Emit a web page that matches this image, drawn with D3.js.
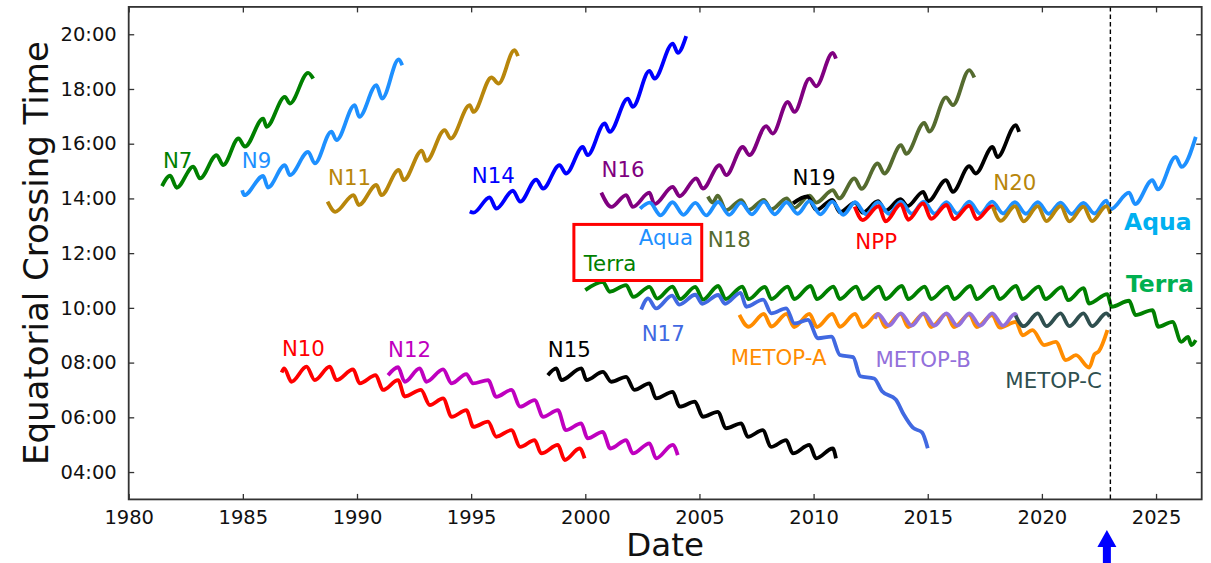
<!DOCTYPE html>
<html><head><meta charset="utf-8">
<script src="https://cdn.jsdelivr.net/npm/d3@7"></script>
<style>
html,body{margin:0;padding:0;background:#fff;}
svg{display:block;font-family:"DejaVu Sans",sans-serif;}
</style></head>
<body>
<svg id="chart" width="1211" height="563"></svg>
<script>
// ---- data: [decimal year, local crossing hour] ----
const N7 = [[1981.46,14.45],[1981.82,14.83],[1982.10,14.39],[1982.83,15.16],[1983.12,14.73],[1983.85,15.58],[1984.14,15.22],[1984.81,16.19],[1985.09,15.89],[1985.89,16.92],[1986.04,16.62],[1986.84,17.71],[1987.06,17.47],[1987.86,18.59],[1988.08,18.38]];
const N9 = [[1984.97,14.30],[1985.06,14.12],[1985.89,14.82],[1986.10,14.40],[1986.84,15.22],[1987.06,14.85],[1987.86,15.70],[1988.15,15.28],[1988.88,16.44],[1989.10,16.13],[1989.90,17.41],[1990.10,16.98],[1990.85,18.14],[1991.10,17.65],[1991.83,19.08],[1991.98,18.87]];
const N10 = [[1986.70,7.64],[1986.81,7.79],[1987.13,7.30],[1987.79,7.85],[1988.15,7.36],[1988.81,7.85],[1989.10,7.36],[1989.83,7.75],[1990.12,7.24],[1990.82,7.54],[1991.14,7.00],[1991.80,7.36],[1992.09,6.76],[1992.80,7.00],[1993.19,6.45],[1993.77,6.69],[1994.15,6.02],[1994.79,6.26],[1995.10,5.65],[1995.74,5.84],[1996.10,5.29],[1996.76,5.53],[1997.15,4.92],[1997.78,5.17],[1998.07,4.68],[1998.80,4.99],[1999.10,4.44],[1999.75,4.86],[1999.97,4.50]];
const N11 = [[1988.71,13.88],[1989.05,13.51],[1989.85,14.12],[1990.08,13.76],[1990.85,14.49],[1991.07,14.12],[1991.83,15.04],[1992.05,14.67],[1992.84,15.75],[1993.04,15.37],[1993.84,16.50],[1994.10,16.19],[1994.94,17.41],[1995.10,17.16],[1995.89,18.42],[1996.20,18.20],[1996.90,19.42],[1997.05,19.20]];
const N12 = [[1991.36,7.54],[1991.80,7.83],[1992.09,7.30],[1992.75,7.79],[1993.04,7.30],[1993.77,7.75],[1994.15,7.24],[1994.79,7.58],[1995.08,7.24],[1995.74,7.36],[1996.10,6.75],[1996.76,7.00],[1997.15,6.39],[1997.78,6.63],[1998.15,6.02],[1998.80,6.26],[1999.15,5.53],[1999.82,5.78],[2000.10,5.23],[2000.76,5.47],[2001.10,4.86],[2001.79,5.17],[2002.08,4.68],[2002.81,5.05],[2003.10,4.50],[2003.83,4.99],[2004.05,4.62]];
const N14 = [[1994.94,13.52],[1995.10,13.48],[1995.81,14.04],[1996.10,13.63],[1996.83,14.28],[1997.15,13.88],[1997.85,14.69],[1998.15,14.36],[1998.87,15.22],[1999.16,14.91],[1999.89,15.88],[2000.10,15.58],[2000.85,16.74],[2001.07,16.43],[2001.86,17.65],[2002.08,17.35],[2002.81,18.66],[2003.03,18.38],[2003.83,19.66],[2004.05,19.32],[2004.42,19.93]];
const N15 = [[1998.36,7.54],[1998.73,7.79],[1998.95,7.36],[1999.83,7.79],[2000.05,7.36],[2000.77,7.66],[2001.14,7.30],[2001.79,7.48],[2002.15,7.00],[2002.81,7.24],[2003.10,6.69],[2003.83,6.93],[2004.13,6.39],[2004.80,6.57],[2005.15,6.02],[2005.80,6.20],[2006.17,5.60],[2006.83,5.78],[2007.12,5.29],[2007.77,5.53],[2008.14,4.92],[2008.80,5.17],[2009.09,4.68],[2009.82,4.99],[2010.11,4.50],[2010.84,4.86],[2010.98,4.50]];
const N16 = [[2000.70,14.21],[2001.14,13.69],[2001.79,14.12],[2002.08,13.69],[2002.81,14.21],[2003.03,13.79],[2003.83,14.42],[2004.13,14.08],[2004.86,14.73],[2005.15,14.36],[2005.88,15.22],[2006.17,14.85],[2006.90,15.88],[2007.19,15.58],[2007.92,16.64],[2008.21,16.37],[2008.87,17.53],[2009.16,17.16],[2009.82,18.38],[2010.11,18.10],[2010.84,19.32],[2010.98,19.11]];
const Terra = [[2000.00,10.65],[2000.77,10.95],[2001.07,10.59],[2001.79,10.83],[2002.10,10.40],[2002.81,10.77],[2003.15,10.34],[2003.82,10.78],[2004.15,10.32],[2004.82,10.77],[2005.15,10.30],[2005.82,10.80],[2006.15,10.32],[2006.88,10.78],[2007.15,10.32],[2007.87,10.77],[2008.15,10.32],[2008.87,10.78],[2009.15,10.32],[2009.87,10.80],[2010.15,10.32],[2010.87,10.78],[2011.15,10.32],[2011.87,10.78],[2012.15,10.32],[2012.87,10.78],[2013.15,10.32],[2013.87,10.80],[2014.15,10.32],[2014.87,10.78],[2015.15,10.32],[2015.87,10.78],[2016.15,10.32],[2016.87,10.80],[2017.15,10.32],[2017.87,10.78],[2018.15,10.32],[2018.87,10.80],[2019.15,10.32],[2019.87,10.78],[2020.15,10.32],[2020.87,10.76],[2021.15,10.28],[2021.82,10.72],[2022.07,10.16],[2022.87,10.50],[2023.05,10.04],[2023.82,10.26],[2024.10,9.74],[2024.84,9.92],[2025.10,9.31],[2025.72,9.49],[2026.10,8.76],[2026.40,8.94],[2026.55,8.64],[2026.74,8.82]];
const N18 = [[2005.37,14.07],[2005.58,13.85],[2005.80,14.10],[2006.17,13.57],[2006.83,13.94],[2007.15,13.58],[2007.82,13.95],[2008.15,13.60],[2008.82,14.00],[2009.15,13.65],[2009.82,14.10],[2010.12,13.85],[2010.84,14.30],[2011.12,14.00],[2011.79,14.73],[2012.10,14.35],[2012.81,15.28],[2013.10,14.91],[2013.83,15.95],[2014.06,15.63],[2014.85,16.76],[2015.07,16.44],[2015.80,17.69],[2016.10,17.41],[2016.82,18.69],[2017.04,18.42]];
const N19 = [[2009.10,13.82],[2009.72,14.07],[2010.12,13.58],[2010.82,13.95],[2011.15,13.50],[2011.82,13.85],[2012.15,13.48],[2012.82,13.90],[2013.15,13.55],[2013.80,13.97],[2014.12,13.72],[2014.80,14.24],[2015.02,13.90],[2015.80,14.67],[2016.10,14.24],[2016.82,15.18],[2017.10,14.91],[2017.84,15.88],[2018.05,15.51],[2018.86,16.68],[2019.00,16.43]];
const Aqua = [[2002.40,13.63],[2002.82,13.85],[2003.30,13.38],[2003.82,13.86],[2004.30,13.40],[2004.82,13.84],[2005.30,13.38],[2005.82,13.87],[2006.30,13.40],[2006.82,13.85],[2007.30,13.42],[2007.82,13.88],[2008.30,13.42],[2008.82,13.86],[2009.30,13.44],[2009.82,13.90],[2010.30,13.42],[2010.82,13.88],[2011.30,13.40],[2011.82,13.86],[2012.30,13.42],[2012.82,13.86],[2013.30,13.44],[2013.82,13.88],[2014.30,13.44],[2014.82,13.88],[2015.30,13.44],[2015.82,13.86],[2016.30,13.44],[2016.82,13.88],[2017.30,13.44],[2017.82,13.88],[2018.30,13.45],[2018.82,13.86],[2019.30,13.44],[2019.82,13.86],[2020.30,13.44],[2020.82,13.85],[2021.30,13.43],[2021.82,13.84],[2022.30,13.45],[2022.82,13.92],[2023.00,13.60],[2023.82,14.21],[2024.08,13.79],[2024.84,14.67],[2025.08,14.33],[2025.86,15.52],[2026.12,15.15],[2026.74,16.25]];
const NPP = [[2011.80,13.70],[2012.15,13.21],[2012.85,13.72],[2013.15,13.16],[2013.82,13.78],[2014.15,13.22],[2014.80,13.82],[2015.15,13.25],[2015.82,13.76],[2016.15,13.24],[2016.82,13.74],[2017.15,13.24],[2017.82,13.72],[2017.95,13.55]];
const N20 = [[2017.85,13.70],[2018.20,13.18],[2018.82,13.72],[2019.20,13.16],[2019.82,13.72],[2020.20,13.17],[2020.82,13.72],[2021.20,13.16],[2021.82,13.70],[2022.20,13.17],[2022.82,13.72],[2023.00,13.45]];
const METOP_A = [[2006.75,9.74],[2007.15,9.31],[2007.82,9.78],[2008.15,9.32],[2008.82,9.78],[2009.15,9.30],[2009.82,9.78],[2010.15,9.30],[2010.82,9.78],[2011.15,9.31],[2011.82,9.78],[2012.15,9.30],[2012.82,9.78],[2013.15,9.30],[2013.82,9.78],[2014.15,9.30],[2014.82,9.78],[2015.15,9.30],[2015.82,9.78],[2016.15,9.30],[2016.82,9.76],[2017.15,9.30],[2017.82,9.74],[2018.15,9.28],[2018.86,9.49],[2019.15,9.00],[2019.59,9.19],[2020.10,8.64],[2020.61,8.76],[2021.05,8.09],[2021.49,8.27],[2022.07,7.82],[2022.30,8.30],[2022.50,8.42],[2022.87,9.19]];
const N17 = [[2002.45,9.94],[2002.75,10.35],[2003.10,9.98],[2003.80,10.45],[2004.12,10.12],[2004.82,10.48],[2005.12,10.15],[2005.82,10.47],[2006.12,10.15],[2006.80,10.55],[2007.05,10.04],[2007.79,10.30],[2008.15,9.80],[2008.80,9.98],[2009.16,9.43],[2009.75,9.56],[2010.20,8.89],[2010.78,8.95],[2011.15,8.28],[2011.73,8.20],[2012.05,7.50],[2012.65,7.42],[2013.00,6.95],[2013.60,6.65],[2013.95,6.10],[2014.35,5.62],[2014.75,5.45],[2015.00,4.87]];
const METOP_B = [[2012.68,9.60],[2012.82,9.78],[2013.30,9.35],[2013.82,9.80],[2014.30,9.35],[2014.82,9.80],[2015.30,9.35],[2015.82,9.80],[2016.30,9.35],[2016.82,9.80],[2017.30,9.35],[2017.82,9.80],[2018.30,9.35],[2018.82,9.78],[2018.90,9.70]];
const METOP_C = [[2018.85,9.72],[2019.20,9.33],[2019.82,9.80],[2020.20,9.33],[2020.82,9.80],[2021.20,9.33],[2021.82,9.80],[2022.20,9.33],[2022.82,9.80],[2022.97,9.68]];

const seriesNames = ["N7","N9","N10","N11","N12","N14","N15","N16","Terra","N18","N19","Aqua","NPP","N20","METOP-A","N17","METOP-B","METOP-C"];
const seriesData  = [N7,N9,N10,N11,N12,N14,N15,N16,Terra,N18,N19,Aqua,NPP,N20,METOP_A,N17,METOP_B,METOP_C];

const xTicks = [1980,1985,1990,1995,2000,2005,2010,2015,2020,2025];
const yTicks = [4,6,8,10,12,14,16,18,20];

// annotation text anchors in data units [year, hour]
const labelTexts = ["N7","N9","N11","N14","N16","N19","Aqua","N18","Terra","N20","NPP","N10","N12","N15","N17","METOP-A","METOP-B","METOP-C"];
const labelAnchors = [[1981.5,15.11],[1984.95,15.11],[1988.73,14.49],[1995.03,14.56],[2000.71,14.78],[2009.08,14.49],[2002.34,12.29],[2005.36,12.22],[1999.93,11.34],[2017.87,14.3],[2011.83,12.14],[1986.71,8.25],[1991.36,8.2],[1998.36,8.2],[2002.47,8.79],[2006.37,7.91],[2012.71,7.84],[2018.4,7.07]];
const boldTexts = ["Aqua","Terra"];
const boldAnchors = [[2023.6,12.84],[2023.68,10.58]];

const boxRange = [[1999.5,2005.1],[11.0,13.05]];
const launchYear = 2023;

// ---- styles ----
const colors = {"N7":"#008000","N9":"#1E90FF","N10":"#FF0000","N11":"#B8860B","N12":"#BF00BF","N14":"#0000FF","N15":"#000000","N16":"#800080","Terra":"#008000","N18":"#556B2F","N19":"#000000","Aqua":"#1E90FF","NPP":"#FF0000","N20":"#B8860B","METOP-A":"#FF8C00","N17":"#4169E1","METOP-B":"#9370DB","METOP-C":"#2F4F4F"};
const boldColors = {"Aqua":"#00B0F0","Terra":"#00B050"};

const svg = d3.select("#chart");
svg.append("rect").attr("width",1211).attr("height",563).attr("fill","#fff");

const L = 128.7, R = 1201.7, T = 6.9, B = 499.4;
const x = d3.scaleLinear().domain([1980,2027]).range([L,R]);
const y = d3.scaleLinear().domain([3,21]).range([B,T]);

const clipId = "plotclip";
svg.append("clipPath").attr("id",clipId).append("rect").attr("x",L).attr("y",T).attr("width",R-L).attr("height",B-T);

const plot = svg.append("g").attr("clip-path",`url(#${clipId})`);
const line = d3.line().x(d=>x(d[0])).y(d=>y(d[1])).curve(d3.curveMonotoneX);

seriesData.forEach((data,i)=>{
  plot.append("path").datum(data)
    .attr("d",line)
    .attr("fill","none")
    .attr("stroke",colors[seriesNames[i]])
    .attr("stroke-width",3.8)
    .attr("stroke-linejoin","round")
    .attr("stroke-linecap","butt");
});

// dashed vertical line
plot.append("line")
  .attr("x1",x(launchYear)).attr("x2",x(launchYear))
  .attr("y1",T).attr("y2",B)
  .attr("stroke","#000").attr("stroke-width",1.4)
  .attr("stroke-dasharray","4.5,3");

// red box
svg.append("rect")
  .attr("x",x(boxRange[0][0])).attr("y",y(boxRange[1][1]))
  .attr("width",x(boxRange[0][1])-x(boxRange[0][0]))
  .attr("height",y(boxRange[1][0])-y(boxRange[1][1]))
  .attr("fill","none").attr("stroke","#FF0000").attr("stroke-width",3);

// labels
labelTexts.forEach((t,i)=>{
  svg.append("text").attr("x",x(labelAnchors[i][0])).attr("y",y(labelAnchors[i][1]))
    .attr("font-size",21.3).attr("fill",colors[t]).text(t);
});
boldTexts.forEach((t,i)=>{
  svg.append("text").attr("x",x(boldAnchors[i][0])).attr("y",y(boldAnchors[i][1]))
    .attr("font-size",23.5).attr("font-weight","bold").attr("fill",boldColors[t]).text(t);
});

// axes
const axisColor = "#333";
const xAxisB = d3.axisBottom(x).tickValues(xTicks).tickFormat(d3.format("d")).tickSizeInner(-5.5).tickSizeOuter(0).tickPadding(11);
const yAxisL = d3.axisLeft(y).tickValues(yTicks).tickFormat(d=>String(d).padStart(2,"0")+":00").tickSizeInner(-5.5).tickSizeOuter(0).tickPadding(12);
const xAxisT = d3.axisTop(x).tickValues(xTicks).tickFormat("").tickSizeInner(-5.5).tickSizeOuter(0);
const yAxisR = d3.axisRight(y).tickValues(yTicks).tickFormat("").tickSizeInner(-5.5).tickSizeOuter(0);

function styleAxis(g){
  g.select(".domain").remove();
  g.selectAll(".tick line").attr("stroke",axisColor).attr("stroke-width",1.3);
  g.selectAll(".tick text").attr("fill","#111").attr("font-size",19.5).attr("font-family","DejaVu Sans");
}
svg.append("g").attr("transform",`translate(0,${B})`).call(xAxisB).call(styleAxis);
svg.append("g").attr("transform",`translate(${L},0)`).call(yAxisL).call(styleAxis);
svg.append("g").attr("transform",`translate(0,${T})`).call(xAxisT).call(styleAxis);
svg.append("g").attr("transform",`translate(${R},0)`).call(yAxisR).call(styleAxis);

svg.append("rect").attr("x",L).attr("y",T).attr("width",R-L).attr("height",B-T)
  .attr("fill","none").attr("stroke",axisColor).attr("stroke-width",1.8);

// axis titles
svg.append("text").attr("x",(L+R)/2).attr("y",556).attr("text-anchor","middle")
  .attr("font-size",32.5).attr("fill","#111").text("Date");
svg.append("text").attr("transform",`translate(48,${(T+B)/2}) rotate(-90)`).attr("text-anchor","middle")
  .attr("font-size",34).attr("fill","#111").text("Equatorial Crossing Time");

// blue arrow marking the date line
const ax = x(launchYear) - 3.5;
svg.append("path")
  .attr("d",`M${ax},530 L${ax+9.5},547 L${ax+4},547 L${ax+4},563 L${ax-4},563 L${ax-4},547 L${ax-9.5},547 Z`)
  .attr("fill","#0000FF");
</script>
</body></html>
